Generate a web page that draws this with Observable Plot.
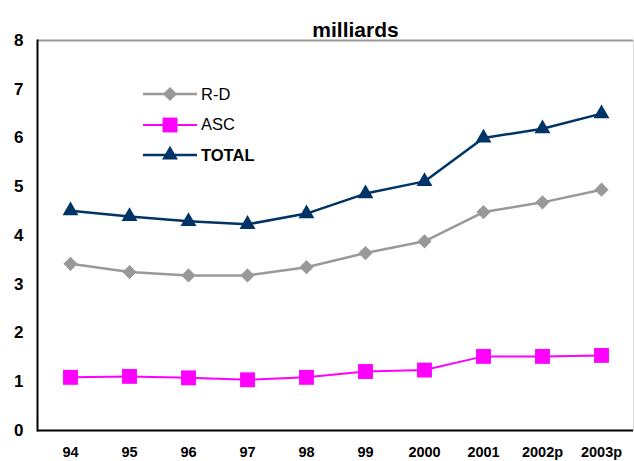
<!DOCTYPE html>
<html>
<head>
<meta charset="utf-8">
<script src="https://cdn.jsdelivr.net/npm/d3@7"></script>
<script src="https://cdn.jsdelivr.net/npm/@observablehq/plot@0.6"></script>
<style>
  html, body { margin: 0; padding: 0; background: #fff; }
  #wrap { position: relative; width: 634px; height: 461px; font-family: "Liberation Sans", Arial, sans-serif; }
  #legend { position: absolute; left: 143px; top: 79px; }
  .lg { display: flex; align-items: center; height: 30.5px; font-size: 16.5px; color: #000; }
  .lg svg { margin-right: 4px; }
</style>
</head>
<body>
<div id="wrap"></div>
<script>
const years = ["94", "95", "96", "97", "98", "99", "2000", "2001", "2002p", "2003p"];
const rd    = [3.42, 3.25, 3.18, 3.18, 3.35, 3.64, 3.88, 4.48, 4.68, 4.94];
const asc   = [1.09, 1.11, 1.08, 1.04, 1.09, 1.21, 1.24, 1.52, 1.52, 1.54];
const total = [4.51, 4.39, 4.29, 4.23, 4.45, 4.86, 5.11, 6.00, 6.19, 6.50];
const yTicks = [0, 1, 2, 3, 4, 5, 6, 7, 8];
const title = "milliards";

const series = [
  {name: "R-D",   values: rd,    color: "#999999", symbol: "diamond2", r: 6.4, sw: 2.5, bold: false},
  {name: "ASC",   values: asc,   color: "#FF00FF", symbol: "square",   r: 8.4, sw: 2,   bold: false},
  {name: "TOTAL", values: total, color: "#003366", symbol: "triangle", r: 5.9, sw: 2.5, bold: true}
];

const data = series.flatMap(s => years.map((y, i) => ({year: y, value: s.values[i], name: s.name})));

const marks = [
  Plot.ruleY([8], {stroke: "#999999", strokeWidth: 2}),
  Plot.frame({anchor: "right", stroke: "#d9d9d9", strokeWidth: 1}),
  Plot.axisY({ticks: yTicks, tickSize: 0, tickPadding: 14, fontSize: 17, fontWeight: "bold", tickFormat: d => d}),
  Plot.axisX({tickSize: 0, tickPadding: 16, fontSize: 14.5, fontWeight: "bold"}),
  Plot.text([title], {frameAnchor: "top", dx: 20, dy: -18, fontSize: 21, fontWeight: "bold", fill: "#000"})
];
for (const s of series) {
  const d = data.filter(e => e.name === s.name);
  marks.push(Plot.line(d, {x: "year", y: "value", stroke: s.color, strokeWidth: s.sw}));
  marks.push(Plot.dot(d, {x: "year", y: "value", fill: s.color, symbol: s.symbol, r: s.r, stroke: "none"}));
}
marks.push(Plot.frame({anchor: "left", stroke: "#000", strokeWidth: 2}));
marks.push(Plot.ruleY([0], {stroke: "#000", strokeWidth: 2}));

const chart = Plot.plot({
  width: 634,
  height: 461,
  marginLeft: 37,
  marginRight: 1,
  marginTop: 40,
  marginBottom: 31,
  style: {fontFamily: "'Liberation Sans', Arial, sans-serif", color: "#000", background: "#fff"},
  x: {type: "point", domain: years, padding: 0.5, label: null},
  y: {domain: [0, 8], label: null},
  marks
});
const wrap = document.getElementById("wrap");
wrap.appendChild(chart);

// legend
const legend = document.createElement("div");
legend.id = "legend";
for (const s of series) {
  const row = document.createElement("div");
  row.className = "lg";
  const svg = d3.create("svg").attr("width", 54).attr("height", 20);
  svg.append("line").attr("x1", 0).attr("x2", 54).attr("y1", 10).attr("y2", 10)
    .attr("stroke", s.color).attr("stroke-width", s.sw);
  const symMap = {diamond2: d3.symbolDiamond2, square: d3.symbolSquare, triangle: d3.symbolTriangle};
  svg.append("path").attr("transform", "translate(27,10)")
    .attr("d", d3.symbol(symMap[s.symbol], s.r * s.r * Math.PI)())
    .attr("fill", s.color);
  row.appendChild(svg.node());
  const lab = document.createElement("span");
  lab.textContent = s.name;
  if (s.bold) lab.style.fontWeight = "bold";
  row.appendChild(lab);
  legend.appendChild(row);
}
wrap.appendChild(legend);
</script>
</body>
</html>
